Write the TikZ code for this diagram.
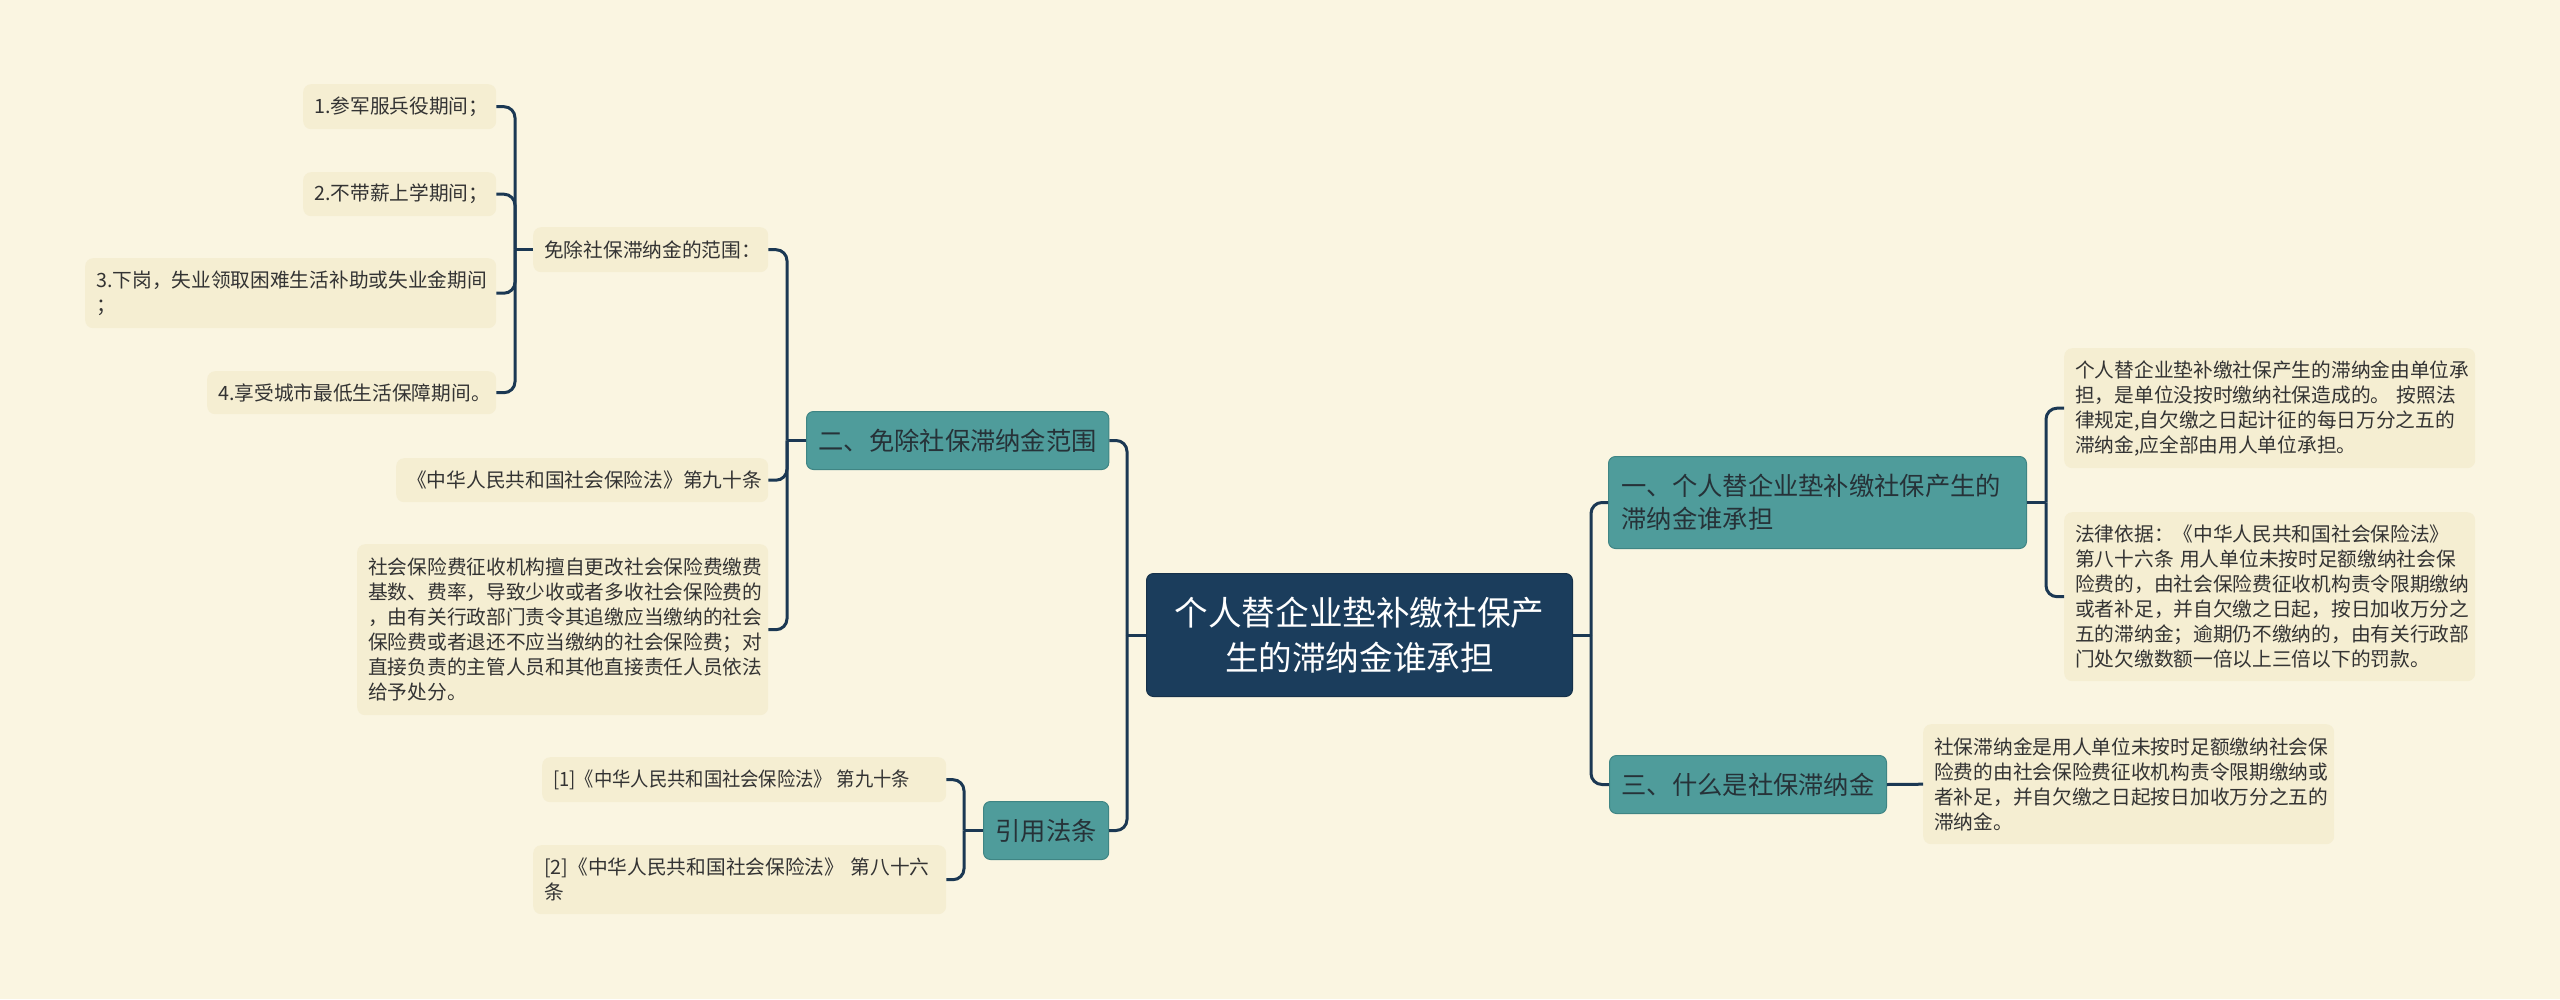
\documentclass[tikz,border=0pt]{standalone}
\usepackage{fontspec}
\setmainfont{Noto Sans CJK SC}
\usetikzlibrary{calc}
\definecolor{bgc}{HTML}{FAF5E1}
\definecolor{leafc}{HTML}{F5EED2}
\definecolor{tealc}{HTML}{4F9C9B}
\definecolor{tealb}{HTML}{3F8584}
\definecolor{navyc}{HTML}{1B3D5C}
\definecolor{connc}{HTML}{1B3853}
\definecolor{txtc}{HTML}{333333}
\definecolor{midtxt}{HTML}{263238}
\newcommand\leaffont{\fontsize{19.7}{25}\selectfont}
\newcommand\midfont{\fontsize{25.3}{33}\selectfont}
\newcommand\rootfont{\fontsize{33.6}{45}\selectfont}
\tikzset{
  leaf/.style={fill=leafc, rounded corners=8pt, inner xsep=11pt, inner ysep=0pt,
    anchor=north west, align=left, font=\leaffont, text=txtc},
  mid/.style={fill=tealc, draw=tealb, line width=1pt, rounded corners=7pt, inner xsep=12pt, inner ysep=0pt,
    anchor=north west, font=\midfont, text=midtxt},
  rootbox/.style={fill=navyc, draw=navyc!80!black, line width=1pt, rounded corners=7pt, inner sep=0pt,
    anchor=north west, align=center, font=\rootfont, text=white},
  conn/.style={draw=connc, line width=3pt, rounded corners=11pt},
}
\begin{document}
\begin{tikzpicture}[x=1pt,y=-1pt]
\useasboundingbox (0,0) rectangle (2560,999);
\fill[bgc] (0,0) rectangle (2560,999);

% root
\node[rootbox, minimum width=426pt, minimum height=123pt] (root) at (1146,573)
  {个人替企业垫补缴社保产\\生的滞纳金谁承担};

% level 1
\node[mid, minimum width=302pt, minimum height=58pt, align=center] (L1a) at (806,411) {二、免除社保滞纳金范围};
\node[mid, minimum width=125pt, minimum height=58pt, align=center] (L1b) at (983,801) {引用法条};
\node[mid, minimum width=418pt, minimum height=92pt, text width=392pt, inner xsep=13pt, align=left] (R1) at (1608,456)
  {一、个人替企业垫补缴社保产生的\\滞纳金谁承担};
\node[mid, minimum width=277pt, minimum height=58pt, align=center] (R3) at (1609,755) {三、什么是社保滞纳金};

% level 2 left
\node[leaf, minimum width=235pt, minimum height=45pt, text width=213pt] (A1) at (533,227) {免除社保滞纳金的范围：};
\node[leaf, minimum width=372pt, minimum height=44pt, text width=350pt] (A2) at (396,458) {《中华人民共和国社会保险法》第九十条};
\node[leaf, minimum width=411pt, minimum height=171pt, text width=389pt] (A3) at (357,544)
  {社会保险费征收机构擅自更改社会保险费缴费\\基数、费率，导致少收或者多收社会保险费的\\，由有关行政部门责令其追缴应当缴纳的社会\\保险费或者退还不应当缴纳的社会保险费；对\\直接负责的主管人员和其他直接责任人员依法\\给予处分。};

% level 3 left
\node[leaf, minimum width=193pt, minimum height=45pt, text width=171pt] (B1) at (303,84) {1.参军服兵役期间；};
\node[leaf, minimum width=193pt, minimum height=44pt, text width=171pt] (B2) at (303,172) {2.不带薪上学期间；};
\node[leaf, minimum width=411pt, minimum height=70pt, text width=389pt] (B3) at (85,258) {3.下岗，失业领取困难生活补助或失业金期间\\；};
\node[leaf, minimum width=289pt, minimum height=43pt, text width=267pt] (B4) at (207,371) {4.享受城市最低生活保障期间。};

% references
\node[leaf, minimum width=404pt, minimum height=45pt, text width=382pt] (C1) at (542,757)
  {\scalebox{0.93}[1]{[1]《中华人民共和国社会保险法》\hspace{5pt}第九十条}};
\node[leaf, minimum width=413pt, minimum height=69pt, text width=391pt] (C2) at (533,845) {[2]《中华人民共和国社会保险法》 第八十六\\条};

% right leaves
\node[leaf, minimum width=411pt, minimum height=120pt, text width=389pt] (D1) at (2064,348)
  {个人替企业垫补缴社保产生的滞纳金由单位承\\担，是单位没按时缴纳社保造成的。 按照法\\律规定,自欠缴之日起计征的每日万分之五的\\滞纳金,应全部由用人单位承担。};
\node[leaf, minimum width=411pt, minimum height=169pt, text width=389pt] (D2) at (2064,512)
  {法律依据：《中华人民共和国社会保险法》\\第八十六条 用人单位未按时足额缴纳社会保\\险费的，由社会保险费征收机构责令限期缴纳\\或者补足，并自欠缴之日起，按日加收万分之\\五的滞纳金；逾期仍不缴纳的，由有关行政部\\门处欠缴数额一倍以上三倍以下的罚款。};
\node[leaf, minimum width=411pt, minimum height=120pt, text width=389pt] (E1) at (1923,724)
  {社保滞纳金是用人单位未按时足额缴纳社会保\\险费的由社会保险费征收机构责令限期缴纳或\\者补足，并自欠缴之日起按日加收万分之五的\\滞纳金。};

% junctions
\coordinate (jR) at ($(root.east)+(18,0)$);
\coordinate (jL) at ($(root.west)+(-19,0)$);
\coordinate (jA) at ($(L1a.west)+(-19,0)$);
\coordinate (jB) at ($(A1.west)+(-18,0)$);
\coordinate (jC) at ($(L1b.west)+(-19,0)$);
\coordinate (jD) at ($(R1.east)+(19,0)$);

% connectors
\draw[conn] (root.east) -- (jR);
\draw[conn] (jR) |- (R1.west);
\draw[conn] (jR) |- (R3.west);
\draw[conn] (root.west) -- (jL);
\draw[conn] (jL) |- (L1a.east);
\draw[conn] (jL) |- (L1b.east);
\draw[conn] (L1a.west) -- (jA);
\draw[conn] (jA) |- (A1.east);
\draw[conn] (jA) |- (A2.east);
\draw[conn] (jA) |- (A3.east);
\draw[conn] (A1.west) -- (jB);
\draw[conn] (jB) |- (B1.east);
\draw[conn] (jB) |- (B2.east);
\draw[conn] (jB) |- (B3.east);
\draw[conn] (jB) |- (B4.east);
\draw[conn] (L1b.west) -- (jC);
\draw[conn] (jC) |- (C1.east);
\draw[conn] (jC) |- (C2.east);
\draw[conn] (R1.east) -- (jD);
\draw[conn] (jD) |- (D1.west);
\draw[conn] (jD) |- (D2.west);
\draw[conn] (R3.east) -- (E1.west);
\end{tikzpicture}
\end{document}
